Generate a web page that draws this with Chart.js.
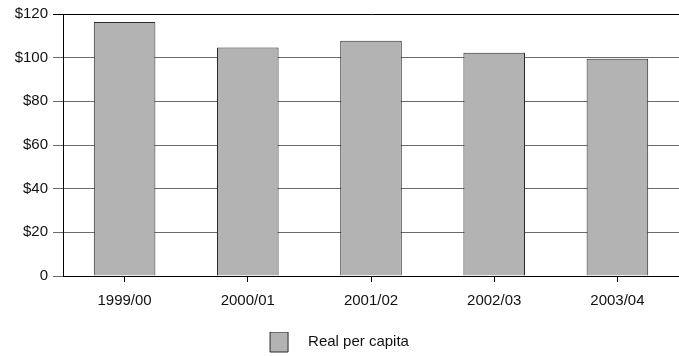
<!DOCTYPE html>
<html>
<head>
<meta charset="utf-8">
<script src="https://cdn.jsdelivr.net/npm/chart.js@4/dist/chart.umd.min.js"></script>
<style>
  html, body { margin: 0; padding: 0; background: #fff; }
  #wrap { width: 679px; height: 356px; position: relative; }
</style>
</head>
<body>
<div id="wrap"><canvas id="c"></canvas></div>
<script>
const categories = ['1999/00', '2000/01', '2001/02', '2002/03', '2003/04'];
const realPerCapita = [116.3, 104.6, 107.8, 102.3, 99.5];
const seriesName = 'Real per capita';
const yMax = 120;
const yStep = 20;

const FONT = "'Liberation Sans', Arial, sans-serif";

new Chart(document.getElementById('c'), {
  type: 'bar',
  data: {
    labels: categories,
    datasets: [{
      label: seriesName,
      data: realPerCapita,
      backgroundColor: '#b3b3b3',
      borderColor: '#2a2a2a',
      borderWidth: 1,
      borderSkipped: 'bottom',
      categoryPercentage: 1.0,
      barPercentage: 0.5
    }]
  },
  options: {
    responsive: true,
    maintainAspectRatio: false,
    animation: false,
    layout: { padding: { top: 14, right: 0, left: 0, bottom: -6 } },
    plugins: {
      tooltip: { enabled: false },
      legend: {
        display: true,
        position: 'bottom',
        labels: {
          boxWidth: 18,
          boxHeight: 20,
          color: '#111',
          font: { family: FONT, size: 15 },
          padding: 0,
          generateLabels: (chart) => {
            const items = Chart.defaults.plugins.legend.labels.generateLabels(chart);
            // widen the gap between swatch and caption
            items.forEach(it => { it.text = '   ' + it.text; });
            return items;
          }
        }
      }
    },
    scales: {
      x: {
        offset: true,
        afterFit: (scale) => { scale.height += 12; },
        border: { display: true, color: '#000', width: 1 },
        grid: {
          offset: false,
          drawOnChartArea: false,
          drawTicks: true,
          tickLength: 6,
          color: '#000'
        },
        ticks: {
          color: '#111',
          padding: 10,
          font: { family: FONT, size: 15 }
        }
      },
      y: {
        min: 0,
        max: yMax,
        afterFit: (scale) => { scale.width = 63; },
        border: { display: true, color: '#000', width: 1 },
        grid: {
          drawTicks: true,
          tickLength: 10,
          color: (ctx) => (ctx.tick && ctx.tick.value === yMax) ? '#000' : '#6a6a6a',
          lineWidth: 1
        },
        ticks: {
          stepSize: yStep,
          color: '#111',
          padding: 5,
          font: { family: FONT, size: 15 },
          callback: (v) => v === 0 ? '0' : '$' + v
        }
      }
    }
  }
});
</script>
</body>
</html>
